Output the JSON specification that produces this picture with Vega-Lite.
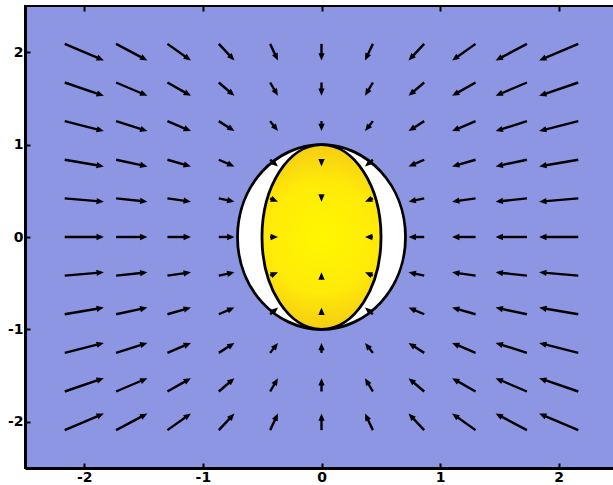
{
  "$schema": "https://vega.github.io/schema/vega-lite/v6.json",
  "width": 593,
  "height": 462,
  "autosize": {"type": "none"},
  "padding": {"left": 25, "top": 6, "right": 0, "bottom": 17},
  "background": "white",
  "config": {
    "view": {"fill": "#8c96e2", "stroke": "black", "strokeWidth": 2},
    "axis": {
      "grid": false,
      "title": null,
      "labelFont": "DejaVu Sans",
      "labelFontWeight": "bold",
      "labelFontSize": 14,
      "labelColor": "black",
      "domainColor": "black",
      "domainWidth": 3,
      "tickColor": "black",
      "tickWidth": 2,
      "tickSize": -5
    }
  },
  "resolve": {"axis": {"x": "independent"}},
  "datasets": {
    "field": [
      {"x": -2, "y": 2, "u": 0.33, "v": -0.18},
      {"x": -1.6, "y": 2, "u": 0.264, "v": -0.18},
      {"x": -1.2, "y": 2, "u": 0.198, "v": -0.18},
      {"x": -0.8, "y": 2, "u": 0.132, "v": -0.18},
      {"x": -0.4, "y": 2, "u": 0.066, "v": -0.18},
      {"x": 0, "y": 2, "u": 0, "v": -0.18},
      {"x": 0.4, "y": 2, "u": -0.066, "v": -0.18},
      {"x": 0.8, "y": 2, "u": -0.132, "v": -0.18},
      {"x": 1.2, "y": 2, "u": -0.198, "v": -0.18},
      {"x": 1.6, "y": 2, "u": -0.264, "v": -0.18},
      {"x": 2, "y": 2, "u": -0.33, "v": -0.18},
      {"x": -2, "y": 1.6, "u": 0.33, "v": -0.144},
      {"x": -1.6, "y": 1.6, "u": 0.264, "v": -0.144},
      {"x": -1.2, "y": 1.6, "u": 0.198, "v": -0.144},
      {"x": -0.8, "y": 1.6, "u": 0.132, "v": -0.144},
      {"x": -0.4, "y": 1.6, "u": 0.066, "v": -0.144},
      {"x": 0, "y": 1.6, "u": 0, "v": -0.144},
      {"x": 0.4, "y": 1.6, "u": -0.066, "v": -0.144},
      {"x": 0.8, "y": 1.6, "u": -0.132, "v": -0.144},
      {"x": 1.2, "y": 1.6, "u": -0.198, "v": -0.144},
      {"x": 1.6, "y": 1.6, "u": -0.264, "v": -0.144},
      {"x": 2, "y": 1.6, "u": -0.33, "v": -0.144},
      {"x": -2, "y": 1.2, "u": 0.33, "v": -0.108},
      {"x": -1.6, "y": 1.2, "u": 0.264, "v": -0.108},
      {"x": -1.2, "y": 1.2, "u": 0.198, "v": -0.108},
      {"x": -0.8, "y": 1.2, "u": 0.132, "v": -0.108},
      {"x": -0.4, "y": 1.2, "u": 0.066, "v": -0.108},
      {"x": 0, "y": 1.2, "u": 0, "v": -0.108},
      {"x": 0.4, "y": 1.2, "u": -0.066, "v": -0.108},
      {"x": 0.8, "y": 1.2, "u": -0.132, "v": -0.108},
      {"x": 1.2, "y": 1.2, "u": -0.198, "v": -0.108},
      {"x": 1.6, "y": 1.2, "u": -0.264, "v": -0.108},
      {"x": 2, "y": 1.2, "u": -0.33, "v": -0.108},
      {"x": -2, "y": 0.8, "u": 0.33, "v": -0.072},
      {"x": -1.6, "y": 0.8, "u": 0.264, "v": -0.072},
      {"x": -1.2, "y": 0.8, "u": 0.198, "v": -0.072},
      {"x": -0.8, "y": 0.8, "u": 0.132, "v": -0.072},
      {"x": -0.4, "y": 0.8, "u": 0.066, "v": -0.072},
      {"x": 0, "y": 0.8, "u": 0, "v": -0.072},
      {"x": 0.4, "y": 0.8, "u": -0.066, "v": -0.072},
      {"x": 0.8, "y": 0.8, "u": -0.132, "v": -0.072},
      {"x": 1.2, "y": 0.8, "u": -0.198, "v": -0.072},
      {"x": 1.6, "y": 0.8, "u": -0.264, "v": -0.072},
      {"x": 2, "y": 0.8, "u": -0.33, "v": -0.072},
      {"x": -2, "y": 0.4, "u": 0.33, "v": -0.036},
      {"x": -1.6, "y": 0.4, "u": 0.264, "v": -0.036},
      {"x": -1.2, "y": 0.4, "u": 0.198, "v": -0.036},
      {"x": -0.8, "y": 0.4, "u": 0.132, "v": -0.036},
      {"x": -0.4, "y": 0.4, "u": 0.066, "v": -0.036},
      {"x": 0, "y": 0.4, "u": 0, "v": -0.036},
      {"x": 0.4, "y": 0.4, "u": -0.066, "v": -0.036},
      {"x": 0.8, "y": 0.4, "u": -0.132, "v": -0.036},
      {"x": 1.2, "y": 0.4, "u": -0.198, "v": -0.036},
      {"x": 1.6, "y": 0.4, "u": -0.264, "v": -0.036},
      {"x": 2, "y": 0.4, "u": -0.33, "v": -0.036},
      {"x": -2, "y": 0, "u": 0.33, "v": 0},
      {"x": -1.6, "y": 0, "u": 0.264, "v": 0},
      {"x": -1.2, "y": 0, "u": 0.198, "v": 0},
      {"x": -0.8, "y": 0, "u": 0.132, "v": 0},
      {"x": -0.4, "y": 0, "u": 0.066, "v": 0},
      {"x": 0.4, "y": 0, "u": -0.066, "v": 0},
      {"x": 0.8, "y": 0, "u": -0.132, "v": 0},
      {"x": 1.2, "y": 0, "u": -0.198, "v": 0},
      {"x": 1.6, "y": 0, "u": -0.264, "v": 0},
      {"x": 2, "y": 0, "u": -0.33, "v": 0},
      {"x": -2, "y": -0.4, "u": 0.33, "v": 0.036},
      {"x": -1.6, "y": -0.4, "u": 0.264, "v": 0.036},
      {"x": -1.2, "y": -0.4, "u": 0.198, "v": 0.036},
      {"x": -0.8, "y": -0.4, "u": 0.132, "v": 0.036},
      {"x": -0.4, "y": -0.4, "u": 0.066, "v": 0.036},
      {"x": 0, "y": -0.4, "u": 0, "v": 0.036},
      {"x": 0.4, "y": -0.4, "u": -0.066, "v": 0.036},
      {"x": 0.8, "y": -0.4, "u": -0.132, "v": 0.036},
      {"x": 1.2, "y": -0.4, "u": -0.198, "v": 0.036},
      {"x": 1.6, "y": -0.4, "u": -0.264, "v": 0.036},
      {"x": 2, "y": -0.4, "u": -0.33, "v": 0.036},
      {"x": -2, "y": -0.8, "u": 0.33, "v": 0.072},
      {"x": -1.6, "y": -0.8, "u": 0.264, "v": 0.072},
      {"x": -1.2, "y": -0.8, "u": 0.198, "v": 0.072},
      {"x": -0.8, "y": -0.8, "u": 0.132, "v": 0.072},
      {"x": -0.4, "y": -0.8, "u": 0.066, "v": 0.072},
      {"x": 0, "y": -0.8, "u": 0, "v": 0.072},
      {"x": 0.4, "y": -0.8, "u": -0.066, "v": 0.072},
      {"x": 0.8, "y": -0.8, "u": -0.132, "v": 0.072},
      {"x": 1.2, "y": -0.8, "u": -0.198, "v": 0.072},
      {"x": 1.6, "y": -0.8, "u": -0.264, "v": 0.072},
      {"x": 2, "y": -0.8, "u": -0.33, "v": 0.072},
      {"x": -2, "y": -1.2, "u": 0.33, "v": 0.108},
      {"x": -1.6, "y": -1.2, "u": 0.264, "v": 0.108},
      {"x": -1.2, "y": -1.2, "u": 0.198, "v": 0.108},
      {"x": -0.8, "y": -1.2, "u": 0.132, "v": 0.108},
      {"x": -0.4, "y": -1.2, "u": 0.066, "v": 0.108},
      {"x": 0, "y": -1.2, "u": 0, "v": 0.108},
      {"x": 0.4, "y": -1.2, "u": -0.066, "v": 0.108},
      {"x": 0.8, "y": -1.2, "u": -0.132, "v": 0.108},
      {"x": 1.2, "y": -1.2, "u": -0.198, "v": 0.108},
      {"x": 1.6, "y": -1.2, "u": -0.264, "v": 0.108},
      {"x": 2, "y": -1.2, "u": -0.33, "v": 0.108},
      {"x": -2, "y": -1.6, "u": 0.33, "v": 0.144},
      {"x": -1.6, "y": -1.6, "u": 0.264, "v": 0.144},
      {"x": -1.2, "y": -1.6, "u": 0.198, "v": 0.144},
      {"x": -0.8, "y": -1.6, "u": 0.132, "v": 0.144},
      {"x": -0.4, "y": -1.6, "u": 0.066, "v": 0.144},
      {"x": 0, "y": -1.6, "u": 0, "v": 0.144},
      {"x": 0.4, "y": -1.6, "u": -0.066, "v": 0.144},
      {"x": 0.8, "y": -1.6, "u": -0.132, "v": 0.144},
      {"x": 1.2, "y": -1.6, "u": -0.198, "v": 0.144},
      {"x": 1.6, "y": -1.6, "u": -0.264, "v": 0.144},
      {"x": 2, "y": -1.6, "u": -0.33, "v": 0.144},
      {"x": -2, "y": -2, "u": 0.33, "v": 0.18},
      {"x": -1.6, "y": -2, "u": 0.264, "v": 0.18},
      {"x": -1.2, "y": -2, "u": 0.198, "v": 0.18},
      {"x": -0.8, "y": -2, "u": 0.132, "v": 0.18},
      {"x": -0.4, "y": -2, "u": 0.066, "v": 0.18},
      {"x": 0, "y": -2, "u": 0, "v": 0.18},
      {"x": 0.4, "y": -2, "u": -0.066, "v": 0.18},
      {"x": 0.8, "y": -2, "u": -0.132, "v": 0.18},
      {"x": 1.2, "y": -2, "u": -0.198, "v": 0.18},
      {"x": 1.6, "y": -2, "u": -0.264, "v": 0.18},
      {"x": 2, "y": -2, "u": -0.33, "v": 0.18}
    ],
    "bodies": [
      {"body": "outer", "cx": 0, "cy": 0},
      {"body": "inner", "cx": 0, "cy": 0}
    ]
  },
  "layer": [
    {
      "data": {"name": "bodies"},
      "transform": [{"filter": "datum.body === 'outer'"}],
      "mark": {
        "type": "point",
        "shape": "M0.909,0C0.909,0.552,0.502,1,0,1C-0.502,1,-0.909,0.552,-0.909,0C-0.909,-0.552,-0.502,-1,0,-1C0.502,-1,0.909,-0.552,0.909,0Z",
        "size": 34151,
        "filled": true,
        "fill": "white",
        "stroke": "black",
        "strokeWidth": 2.8,
        "opacity": 1,
        "strokeOpacity": 1,
        "fillOpacity": 1
      },
      "encoding": {
        "x": {
          "field": "cx", "type": "quantitative",
          "scale": {"domain": [-2.5, 2.5], "nice": false, "zero": false},
          "axis": {"orient": "bottom", "values": [-2, -1, 0, 1, 2], "labelExpr": "toString(datum.value)", "labelPadding": 7}
        },
        "y": {
          "field": "cy", "type": "quantitative",
          "scale": {"domain": [-2.5, 2.5], "nice": false, "zero": false},
          "axis": {"orient": "left", "values": [-2, -1, 0, 1, 2], "labelExpr": "toString(datum.value)", "labelPadding": 7}
        }
      }
    },
    {
      "data": {"name": "bodies"},
      "transform": [{"filter": "datum.body === 'inner'"}],
      "mark": {
        "type": "point",
        "shape": "M0.644,0C0.644,0.552,0.356,1,0,1C-0.356,1,-0.644,0.552,-0.644,0C-0.644,-0.552,-0.356,-1,0,-1C0.356,-1,0.644,-0.552,0.644,0Z",
        "size": 34151,
        "filled": true,
        "fill": {
          "gradient": "radial",
          "x1": 0.5, "y1": 0.5, "r1": 0,
          "x2": 0.5, "y2": 0.5, "r2": 0.5,
          "stops": [
            {"offset": 0, "color": "#fff700"},
            {"offset": 0.6, "color": "#ffea08"},
            {"offset": 1, "color": "#f5cc14"}
          ]
        },
        "stroke": "black",
        "strokeWidth": 2.8,
        "opacity": 1,
        "strokeOpacity": 1,
        "fillOpacity": 1
      },
      "encoding": {
        "x": {"field": "cx", "type": "quantitative", "axis": null},
        "y": {"field": "cy", "type": "quantitative"}
      }
    },
    {
      "data": {"name": "field"},
      "transform": [
        {"calculate": "datum.x - datum.u / 2", "as": "xt"},
        {"calculate": "datum.x + datum.u / 2", "as": "xh"},
        {"calculate": "datum.y - datum.v / 2", "as": "yt"},
        {"calculate": "datum.y + datum.v / 2", "as": "yh"},
        {"calculate": "sqrt(pow(datum.u * 118.6, 2) + pow(datum.v * 92.4, 2))", "as": "len"},
        {"calculate": "datum.xh - 4 * datum.u / datum.len", "as": "xs"},
        {"calculate": "datum.yh - 4 * datum.v / datum.len", "as": "ys"}
      ],
      "mark": {"type": "rule", "color": "black", "strokeWidth": 2.4},
      "encoding": {
        "x": {"field": "xt", "type": "quantitative", "axis": null},
        "x2": {"field": "xs"},
        "y": {"field": "yt", "type": "quantitative"},
        "y2": {"field": "ys"}
      }
    },
    {
      "data": {"name": "field"},
      "transform": [
        {"calculate": "datum.x + datum.u / 2", "as": "xh"},
        {"calculate": "datum.y + datum.v / 2", "as": "yh"},
        {"calculate": "atan2(datum.u * 118.6, datum.v * 92.4) * 180 / PI", "as": "ang"}
      ],
      "mark": {
        "type": "point",
        "shape": "M0,0L0.6,1.4L-0.6,1.4Z",
        "size": 110,
        "filled": true,
        "color": "black",
        "opacity": 1
      },
      "encoding": {
        "x": {
          "field": "xh", "type": "quantitative",
          "axis": {"orient": "top", "values": [-2, -1, 0, 1, 2], "labels": false, "domain": false}
        },
        "y": {"field": "yh", "type": "quantitative"},
        "angle": {"field": "ang", "type": "quantitative", "scale": null}
      }
    }
  ]
}
